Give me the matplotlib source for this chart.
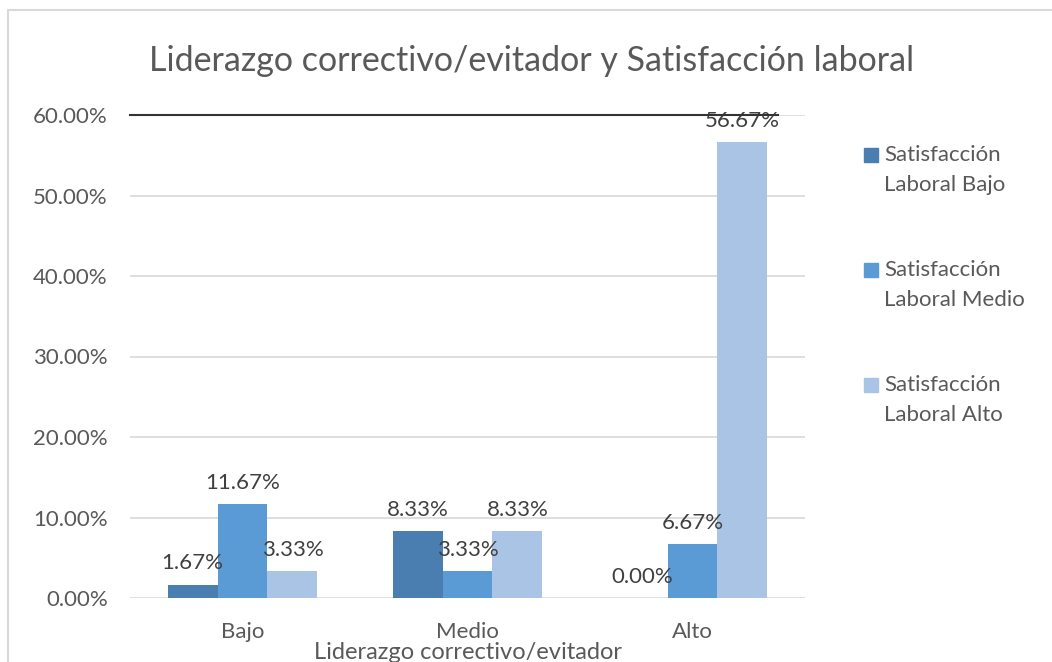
import numpy as np
import matplotlib
matplotlib.use('Agg')
import matplotlib.pyplot as plt
from matplotlib.patches import Rectangle

# datos
categorias = ['Bajo', 'Medio', 'Alto']
series = ['Satisfacción\nLaboral Bajo', 'Satisfacción\nLaboral Medio', 'Satisfacción\nLaboral Alto']
sat_bajo = [0.0167, 0.0833, 0.0]
sat_medio = [0.1167, 0.0333, 0.0667]
sat_alto = [0.0333, 0.0833, 0.5667]
etiquetas = [['1.67%', '8.33%', '0.00%'],
             ['11.67%', '3.33%', '6.67%'],
             ['3.33%', '8.33%', '56.67%']]
colores = ['#4a7eb0', '#5b9bd5', '#aac4e5']
gris = '#595959'

plt.rcParams['font.family'] = ['Lato', 'DejaVu Sans']

fig = plt.figure(figsize=(10.52, 6.62), dpi=100)
ax = fig.add_axes([130 / 1052, 64 / 662, 675 / 1052, 483 / 662])

# marco del grafico
fig.patches.append(Rectangle((8 / 1052, -0.1), 1.2, 1 - 10 / 662 + 0.1,
                             transform=fig.transFigure, fill=False,
                             edgecolor='#d9d9d9', lw=1.5))

x = np.arange(len(categorias))
w = 0.222
valores = [sat_bajo, sat_medio, sat_alto]
for i, (vals, col) in enumerate(zip(valores, colores)):
    pos = x + (i - 1) * w
    ax.bar(pos, vals, width=w, color=col, zorder=3)
    for px, v, t in zip(pos, vals, etiquetas[i]):
        ax.annotate(t, (px, v), xytext=(0, 8), textcoords='offset points',
                    ha='center', va='bottom', fontsize=16, color='#404040', zorder=4)

ax.set_xlim(-0.5, 2.5)
ax.set_ylim(0, 0.6)
ax.set_yticks(np.arange(0, 0.61, 0.1))
ax.set_yticklabels(['%.2f%%' % (v * 100) for v in np.arange(0, 0.61, 0.1)])
ax.set_xticks(x)
ax.set_xticklabels(categorias)
ax.tick_params(length=0, labelsize=16, labelcolor=gris)
ax.tick_params(axis='y', pad=16)
ax.tick_params(axis='x', pad=17)
ax.grid(axis='y', color='#d9d9d9', lw=1.2, zorder=0)
for s in ax.spines.values():
    s.set_visible(False)
ax.axhline(0.6, xmin=0, xmax=0.96, color='#333333', lw=1.5, zorder=5, clip_on=False)
ax.set_xlabel('Liderazgo correctivo/evitador', fontsize=17, color=gris, labelpad=0)

fig.text(532 / 1052, 1 - 61 / 662, 'Liderazgo correctivo/evitador y Satisfacción laboral',
         ha='center', va='center', fontsize=24.5, color=gris)

# leyenda manual
for i, (nombre, col) in enumerate(zip(series, colores)):
    yc = 155 + i * 115
    fig.patches.append(Rectangle((864 / 1052, 1 - (yc + 7) / 662), 14 / 1052, 14 / 662,
                                 transform=fig.transFigure, color=col))
    fig.text(884 / 1052, 1 - (yc - 10) / 662, nombre, ha='left', va='top',
             fontsize=16, color=gris, linespacing=1.6)

fig.savefig('out.png', dpi=100)
